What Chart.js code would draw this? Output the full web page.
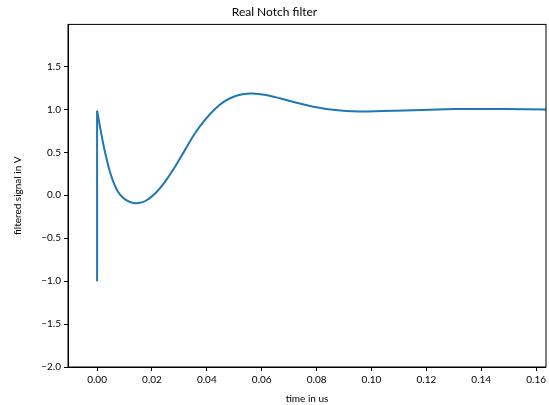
<!DOCTYPE html>
<html>
<head>
<meta charset="utf-8">
<script src="https://cdn.jsdelivr.net/npm/chart.js@4/dist/chart.umd.min.js"></script>
<style>
    html, body { margin: 0; padding: 0; background: #fff; }
    #wrap { width: 549px; height: 405px; }
</style>
</head>
<body>
<div id="wrap"><canvas id="notchChart" width="549" height="405"></canvas></div>
<script>
// values
var stepTime = [0, 0];
var stepSignal = [-1.0, 0.985];

var timeUs = [0, 0.0005, 0.0015, 0.0025, 0.0035, 0.0047, 0.0060, 0.0071, 0.0083, 0.0095,
    0.0108, 0.0120, 0.0132, 0.0144, 0.0156, 0.0168, 0.0180, 0.0192, 0.0216, 0.0246,
    0.0283, 0.0319, 0.0355, 0.0391, 0.0427, 0.0464, 0.0500, 0.0536, 0.0566, 0.0609,
    0.0650, 0.0699, 0.0784, 0.0868, 0.0953, 0.1037, 0.1122, 0.1243, 0.1364, 0.1484,
    0.1636];
var signalV = [0.985, 0.900, 0.720, 0.560, 0.420, 0.270, 0.150, 0.070, 0.010, -0.030,
    -0.060, -0.078, -0.089, -0.092, -0.088, -0.077, -0.058, -0.033, 0.035, 0.151,
    0.326, 0.520, 0.714, 0.869, 0.997, 1.093, 1.151, 1.180, 1.185, 1.172,
    1.143, 1.101, 1.035, 0.993, 0.977, 0.981, 0.988, 1.000, 1.006, 1.004,
    1.000];

var xTickStep = 0.02;
var yTickStep = 0.5;

function toPoints(xs, ys) {
    return xs.map(function (x, i) { return { x: x, y: ys[i] }; });
}

function fmtMinus(v, digits) {
    if (Math.abs(v) < 1e-9) v = 0;
    return v.toFixed(digits).replace('-', '\u2212');
}

// draws the top and right spines like matplotlib
var frameBox = {
    id: 'frameBox',
    afterDraw: function (chart) {
        var a = chart.chartArea;
        var ctx = chart.ctx;
        ctx.save();
        ctx.strokeStyle = '#000';
        ctx.lineWidth = 1;
        ctx.strokeRect(a.left, a.top, a.right - a.left, a.bottom - a.top);
        ctx.restore();
    }
};

Chart.defaults.font.family = 'Lato, "DejaVu Sans", sans-serif';
Chart.defaults.color = '#000';

var ctx = document.getElementById('notchChart').getContext('2d');
var notchChart = new Chart(ctx, {
    type: 'line',
    data: {
        datasets: [{
            data: toPoints(stepTime, stepSignal),
            borderColor: '#1f77b4',
            borderWidth: 2,
            pointRadius: 0,
            tension: 0
        }, {
            data: toPoints(timeUs, signalV),
            borderColor: '#1f77b4',
            borderWidth: 2,
            pointRadius: 0,
            tension: 0.3
        }]
    },
    options: {
        responsive: false,
        animation: false,
        layout: { padding: { left: 0, right: 0, top: 0, bottom: 0 } },
        plugins: {
            legend: { display: false },
            tooltip: { enabled: false },
            title: {
                display: true,
                text: 'Real Notch filter',
                font: { size: 12, weight: 'normal', lineHeight: 1.2 },
                padding: { top: 5, bottom: 5 }
            }
        },
        scales: {
            x: {
                type: 'linear',
                min: -0.0106,
                max: 0.1636,
                afterFit: function (scale) { scale.height = 38; },
                border: { display: true, color: '#000', width: 1 },
                grid: { display: true, drawOnChartArea: false, drawTicks: true, tickLength: 4, color: '#000' },
                ticks: {
                    stepSize: xTickStep,
                    includeBounds: false,
                    maxRotation: 0,
                    padding: 3,
                    font: { size: 10 },
                    callback: function (v) { return fmtMinus(v, 2); }
                },
                title: {
                    display: true,
                    text: 'time in us',
                    font: { size: 10 },
                    padding: { top: 2, bottom: 0 }
                }
            },
            y: {
                min: -2.0,
                max: 1.99,
                afterFit: function (scale) { scale.width = 68; },
                border: { display: true, color: '#000', width: 1 },
                grid: { display: true, drawOnChartArea: false, drawTicks: true, tickLength: 4, color: '#000' },
                ticks: {
                    stepSize: yTickStep,
                    includeBounds: false,
                    padding: 3,
                    font: { size: 10 },
                    callback: function (v) { return fmtMinus(v, 1); }
                },
                title: {
                    display: true,
                    text: 'filtered signal in V',
                    font: { size: 10 },
                    padding: { top: 12, bottom: 4 }
                }
            }
        }
    },
    plugins: [frameBox]
});
</script>
</body>
</html>
